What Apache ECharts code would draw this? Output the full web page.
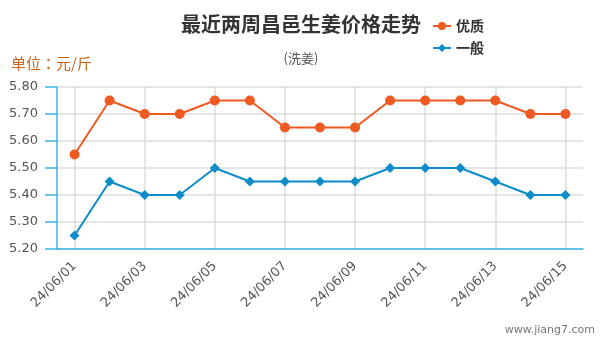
<!DOCTYPE html>
<html>
<head>
<meta charset="utf-8">
<script src="https://cdn.jsdelivr.net/npm/echarts@6/dist/echarts.min.js"></script>
<style>
  html, body { margin: 0; padding: 0; background: #fff; }
  #chart { width: 600px; height: 340px; }
</style>
</head>
<body>
<div id="chart"></div>
<script>
// Daily dates for the last two weeks
const dates = ['24/06/01','24/06/02','24/06/03','24/06/04','24/06/05','24/06/06','24/06/07','24/06/08',
               '24/06/09','24/06/10','24/06/11','24/06/12','24/06/13','24/06/14','24/06/15'];
// Prices (yuan per jin)
const premium = [5.55,5.75,5.70,5.70,5.75,5.75,5.65,5.65,5.65,5.75,5.75,5.75,5.75,5.70,5.70];
const regular = [5.25,5.45,5.40,5.40,5.50,5.45,5.45,5.45,5.45,5.50,5.50,5.50,5.45,5.40,5.40];
const seriesNames = ['优质', '一般'];

const FONT = '"DejaVu Sans", "Noto Sans CJK SC", sans-serif';
const CJK = '"Noto Sans CJK SC", sans-serif';
const AXIS_BLUE = '#3bb4e6';

const chart = echarts.init(document.getElementById('chart'), null, { renderer: 'canvas' });
chart.setOption({
  animation: false,
  backgroundColor: '#fff',
  title: [
    {
      text: '最近两周昌邑生姜价格走势',
      left: 296, top: 9, textAlign: 'center',
      textStyle: { fontFamily: CJK, fontSize: 20, fontWeight: 'bold', color: '#333' }
    },
    {
      text: '(洗姜)',
      left: 296, top: 47, textAlign: 'center',
      textStyle: { fontFamily: CJK, fontSize: 13, fontWeight: 'normal', color: '#555' }
    },
    {
      text: '单位：元/斤',
      left: 6, top: 51,
      textStyle: { fontFamily: '"Noto Sans CJK TC", sans-serif', fontSize: 15, fontWeight: 'normal', color: '#c8651b' }
    }
  ],
  legend: {
    orient: 'vertical',
    left: 427, top: 14,
    itemWidth: 18, itemHeight: 10, itemGap: 8,
    data: seriesNames,
    textStyle: { fontFamily: CJK, fontSize: 14, fontWeight: 'bold', color: '#333' }
  },
  grid: { left: 57, right: 17, top: 87, bottom: 91 },
  xAxis: {
    type: 'category',
    data: dates,
    boundaryGap: true,
    axisLine: { lineStyle: { color: AXIS_BLUE, width: 1.5 } },
    axisTick: { alignWithLabel: true, interval: 1, length: 12, lineStyle: { color: AXIS_BLUE, width: 1.5 } },
    axisLabel: { interval: 1, rotate: 45, margin: 15, fontFamily: FONT, fontSize: 13, color: '#555' },
    splitLine: { show: true, interval: 1, alignWithLabel: true, lineStyle: { color: '#dcdcdc', width: 1.5 } }
  },
  yAxis: {
    type: 'value',
    min: 5.2, max: 5.8, interval: 0.1,
    axisLine: { show: true, lineStyle: { color: AXIS_BLUE, width: 1.5 } },
    axisTick: { show: true, length: 12, lineStyle: { color: AXIS_BLUE, width: 1.5 } },
    axisLabel: { margin: 19, fontFamily: FONT, fontSize: 13, color: '#555', formatter: v => v.toFixed(2) },
    splitLine: { show: true, lineStyle: { color: '#dcdcdc', width: 1.5 } }
  },
  series: [
    {
      name: seriesNames[0], type: 'line', data: premium,
      symbol: 'circle', symbolSize: 10,
      itemStyle: { color: '#ee5a21' },
      lineStyle: { width: 2, color: '#ee5a21' }
    },
    {
      name: seriesNames[1], type: 'line', data: regular,
      symbol: 'diamond', symbolSize: 10,
      itemStyle: { color: '#0d8cc9' },
      lineStyle: { width: 2, color: '#0d8cc9' }
    }
  ],
  graphic: [
    {
      type: 'text', right: 5, bottom: 4,
      style: { text: 'www.jiang7.com', fill: '#777', font: '11px "DejaVu Sans", sans-serif' }
    }
  ]
});
</script>
</body>
</html>
